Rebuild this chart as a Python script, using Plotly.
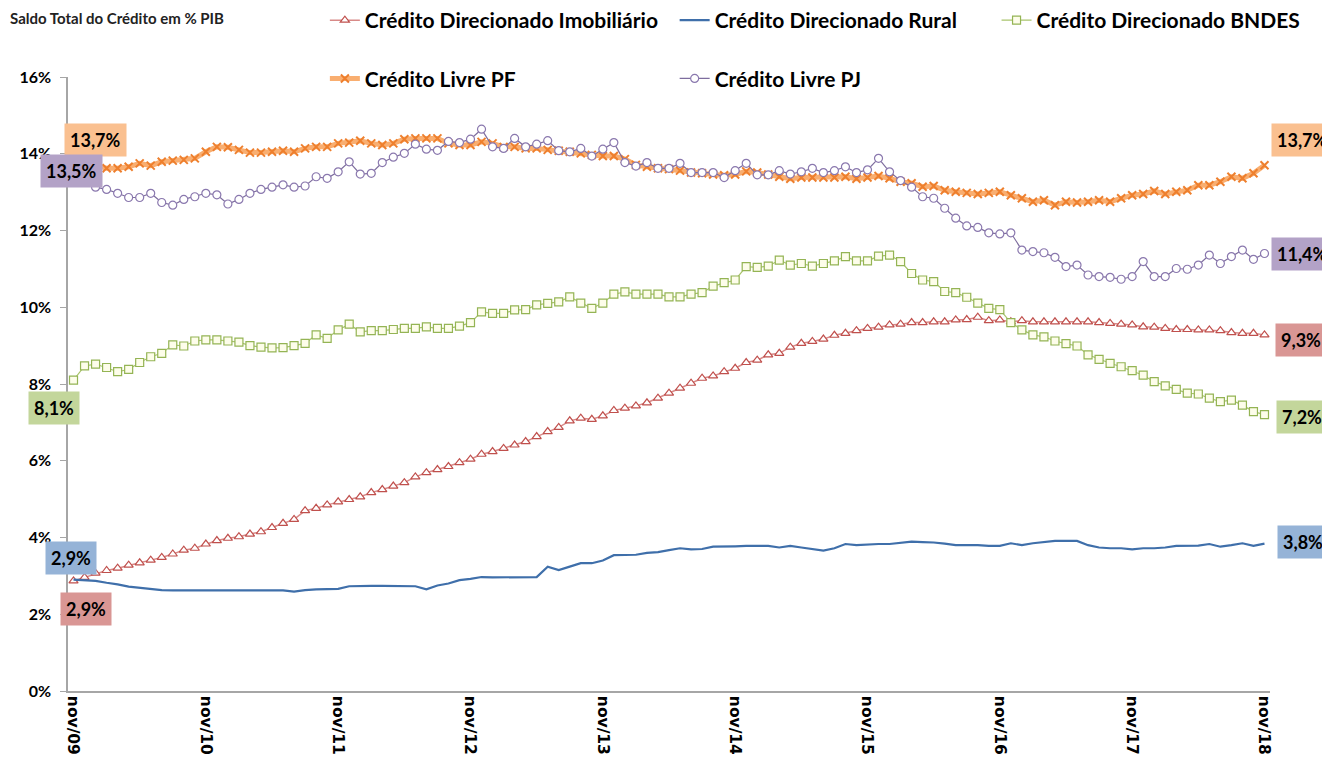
import plotly.graph_objects as go

# monthly categories nov/09 .. nov/18
meses = ['jan', 'fev', 'mar', 'abr', 'mai', 'jun', 'jul', 'ago', 'set', 'out', 'nov', 'dez']
categorias = []
for k in range(109):
    m = (10 + k) % 12
    ano = 9 + (10 + k) // 12
    categorias.append(f"{meses[m]}/{ano:02d}")
ticks_x = categorias[::12]
ticks_y = [0, 2, 4, 6, 8, 10, 12, 14, 16]

# saldo em % do PIB
imobiliario = [
    2.87, 2.96, 3.07, 3.14, 3.20, 3.28, 3.34, 3.41, 3.48, 3.57, 3.67, 3.72,
    3.83, 3.92, 3.98, 4.02, 4.09, 4.15, 4.26, 4.37, 4.47, 4.70, 4.76, 4.85,
    4.93, 4.99, 5.06, 5.17, 5.25, 5.34, 5.43, 5.58, 5.69, 5.77, 5.85, 5.95,
    6.04, 6.17, 6.24, 6.32, 6.41, 6.50, 6.63, 6.76, 6.87, 7.04, 7.11, 7.08,
    7.17, 7.31, 7.37, 7.43, 7.51, 7.63, 7.76, 7.89, 8.02, 8.15, 8.21, 8.32,
    8.41, 8.56, 8.62, 8.76, 8.80, 8.96, 9.06, 9.11, 9.17, 9.27, 9.32, 9.39,
    9.45, 9.48, 9.54, 9.56, 9.60, 9.60, 9.62, 9.62, 9.67, 9.68, 9.74, 9.65,
    9.67, 9.62, 9.65, 9.62, 9.62, 9.62, 9.62, 9.62, 9.62, 9.60, 9.58, 9.56,
    9.54, 9.49, 9.48, 9.45, 9.42, 9.42, 9.41, 9.41, 9.39, 9.34, 9.32, 9.32, 9.28,
]
rural = [
    2.90, 2.88, 2.87, 2.82, 2.78, 2.72, 2.69, 2.67, 2.63, 2.62, 2.62, 2.63,
    2.63, 2.63, 2.62, 2.62, 2.62, 2.63, 2.63, 2.62, 2.59, 2.63, 2.65, 2.65,
    2.66, 2.73, 2.74, 2.74, 2.74, 2.74, 2.74, 2.73, 2.65, 2.75, 2.80, 2.89, 2.92,
    2.97, 2.96, 2.96, 2.96, 2.96, 2.97, 3.24, 3.15, 3.24, 3.33, 3.33, 3.40,
    3.54, 3.54, 3.55, 3.60, 3.62, 3.67, 3.72, 3.69, 3.70, 3.76, 3.76, 3.77,
    3.78, 3.78, 3.78, 3.74, 3.78, 3.74, 3.70, 3.66, 3.72, 3.83, 3.80, 3.82,
    3.83, 3.83, 3.86, 3.89, 3.88, 3.87, 3.84, 3.80, 3.80, 3.80, 3.78, 3.78,
    3.85, 3.80, 3.85, 3.88, 3.91, 3.91, 3.91, 3.80, 3.74, 3.72, 3.72, 3.69,
    3.72, 3.72, 3.74, 3.78, 3.78, 3.79, 3.83, 3.76, 3.80, 3.85, 3.78, 3.84,
]
bndes = [
    8.10, 8.47, 8.52, 8.43, 8.32, 8.38, 8.56, 8.71, 8.80,
    9.02, 8.99, 9.12, 9.15, 9.15, 9.12, 9.09, 9.00, 8.96, 8.94, 8.95, 9.00, 9.06,
    9.28, 9.19, 9.41, 9.56, 9.36, 9.39, 9.39, 9.42, 9.45, 9.45, 9.49, 9.45, 9.45,
    9.51, 9.60, 9.88, 9.84, 9.84, 9.93, 9.94, 10.06, 10.10, 10.14, 10.27, 10.11,
    9.97, 10.11, 10.34, 10.40, 10.34, 10.34, 10.34, 10.27, 10.27, 10.34, 10.38, 10.55,
    10.64, 10.71, 11.06, 11.04, 11.07, 11.23, 11.10, 11.14, 11.07, 11.14, 11.21, 11.32,
    11.21, 11.21, 11.33, 11.36, 11.19, 10.88, 10.71, 10.67, 10.41, 10.38, 10.26, 10.11,
    9.97, 9.94, 9.60, 9.41, 9.28, 9.23, 9.12, 9.05, 8.99, 8.76, 8.64, 8.54,
    8.45, 8.35, 8.23, 8.06, 7.95, 7.86, 7.76, 7.74, 7.63, 7.54, 7.58, 7.45, 7.28, 7.20,
]
livre_pf = [
    13.71, 13.75, 13.71, 13.62, 13.62, 13.66, 13.75, 13.69, 13.79, 13.82, 13.84, 13.88,
    14.05, 14.18, 14.17, 14.10, 14.03, 14.03, 14.05, 14.08, 14.05, 14.14, 14.18, 14.18,
    14.27, 14.29, 14.34, 14.27, 14.23, 14.27, 14.38, 14.40, 14.40,
    14.40, 14.27, 14.23, 14.23, 14.31, 14.27, 14.18, 14.18, 14.14, 14.14, 14.10, 14.08,
    14.05, 14.01, 13.97, 13.94, 13.94, 13.86, 13.71, 13.66, 13.62, 13.60, 13.56, 13.51,
    13.49, 13.46, 13.44, 13.46, 13.54, 13.51, 13.46, 13.40, 13.35, 13.38, 13.38, 13.38,
    13.38, 13.40, 13.35, 13.38,
    13.42, 13.36, 13.27, 13.23, 13.14, 13.16, 13.05, 13.01, 12.98, 12.95, 12.98, 13.01,
    12.92, 12.84, 12.75, 12.79, 12.66, 12.75, 12.73, 12.75, 12.79, 12.75, 12.84, 12.92,
    12.95, 13.03, 12.95, 13.01, 13.05, 13.18, 13.18, 13.27, 13.40, 13.36, 13.49, 13.70,
]
livre_pj = [
    13.47, 13.33, 13.13, 13.07, 12.97, 12.86, 12.86, 12.97, 12.73, 12.66, 12.81, 12.88,
    12.97, 12.93, 12.69, 12.81, 12.97, 13.07, 13.13, 13.19, 13.13, 13.16, 13.40, 13.36,
    13.53, 13.79, 13.47, 13.49, 13.77, 13.91, 14.01, 14.25, 14.12, 14.09, 14.32,
    14.29, 14.38, 14.64, 14.18, 14.14, 14.40, 14.18, 14.25, 14.34, 14.08, 14.05, 14.14,
    13.94, 14.12, 14.29, 13.77, 13.68, 13.77, 13.62, 13.62, 13.75, 13.51, 13.51, 13.51,
    13.38, 13.56, 13.75, 13.45, 13.45, 13.56, 13.47, 13.53, 13.62, 13.51, 13.56, 13.66,
    13.51, 13.58,
    13.88, 13.53, 13.30, 13.13, 12.88, 12.84, 12.58, 12.32, 12.12, 12.08, 11.94, 11.91,
    11.94, 11.49, 11.45, 11.42, 11.30, 11.06, 11.10, 10.84, 10.80, 10.78, 10.73, 10.80,
    11.19, 10.80, 10.80, 11.01, 10.99, 11.10, 11.36, 11.14, 11.32, 11.49, 11.25, 11.40,
]

FONT = "Lato"
idx = list(range(len(categorias)))

fig = go.Figure()

# column 1 of the legend: Imobiliario / Livre PF
fig.add_trace(go.Scatter(
    x=idx, y=imobiliario, name="Crédito Direcionado Imobiliário",
    mode="lines+markers", legend="legend", legendgroup="a",
    line=dict(color="#D88A88", width=1.5),
    marker=dict(symbol="triangle-up", size=8, color="white",
                line=dict(color="#C0504D", width=1.2)),
))
fig.add_trace(go.Scatter(
    x=idx, y=livre_pf, name="Crédito Livre PF",
    mode="lines+markers", legend="legend", legendgroup="b",
    line=dict(color="#F9AE70", width=5),
    marker=dict(symbol="x-thin", size=8,
                line=dict(color="#EE7F2D", width=2)),
))
# column 2: Rural / Livre PJ
fig.add_trace(go.Scatter(
    x=idx, y=rural, name="Crédito Direcionado Rural",
    mode="lines", legend="legend2", legendgroup="c",
    line=dict(color="#3F6FAA", width=2.2),
))
fig.add_trace(go.Scatter(
    x=idx, y=livre_pj, name="Crédito Livre PJ",
    mode="lines+markers", legend="legend2", legendgroup="d",
    line=dict(color="#7E6D9E", width=1.2),
    marker=dict(symbol="circle", size=8, color="white",
                line=dict(color="#8A78AE", width=1.2)),
))
# column 3: BNDES
fig.add_trace(go.Scatter(
    x=idx, y=bndes, name="Crédito Direcionado BNDES",
    mode="lines+markers", legend="legend3", legendgroup="e",
    line=dict(color="#A9C46C", width=1.2),
    marker=dict(symbol="square", size=8, color="#FDFDEA",
                line=dict(color="#94B454", width=1.2)),
))


def rotulo(v):
    return f"{v:.1f}".replace(".", ",") + "%"


# first / last value boxes: (series, index, colour, xshift, yshift)
caixas = [
    (livre_pf, 0, "#FAC090", 22, 25),
    (livre_pj, 0, "#B3A2C7", -2, 3),
    (bndes, 0, "#C3D69B", -20, -28),
    (rural, 0, "#95B3D7", -3, 22),
    (imobiliario, 0, "#D99694", 12, -28),
    (livre_pf, 108, "#FAC090", 38, 25),
    (livre_pj, 108, "#B3A2C7", 38, 0),
    (imobiliario, 108, "#D99694", 37, -5),
    (bndes, 108, "#C3D69B", 38, -2),
    (rural, 108, "#95B3D7", 39, 2),
]
anots = []
for serie, i, cor, dx, dy in caixas:
    anots.append(dict(
        x=i, y=serie[i], xref="x", yref="y", text=f"<b>{rotulo(serie[i])}</b>",
        showarrow=False, xshift=dx, yshift=dy, bgcolor=cor, borderpad=5,
        font=dict(family=FONT, size=18, color="black"),
    ))
anots.append(dict(
    x=-0.05, y=1.096, xref="paper", yref="paper", yanchor="middle", xanchor="left",
    text="<b>Saldo Total do Crédito em % PIB</b>", showarrow=False,
    font=dict(family=FONT, size=15, color="#222"),
))

leg = dict(orientation="v", yanchor="top", xanchor="left", y=1.1254,
           bgcolor="rgba(0,0,0,0)", tracegroupgap=28,
           font=dict(family=FONT, size=21, color="black", weight="bold"))

# the page adds an 8px body margin, so the figure margins are 8px smaller
fig.update_layout(
    width=1330, height=770,
    margin=dict(l=60, r=68, t=69, b=87, autoexpand=False),
    paper_bgcolor="white", plot_bgcolor="white",
    annotations=anots,
    legend=dict(leg, x=0.2137),
    legend2=dict(leg, x=0.5047),
    legend3=dict(leg, x=0.7725),
    xaxis=dict(
        type="linear", range=[-0.5, 108.5], automargin=False,
        tickvals=idx[::12], ticktext=ticks_x, tickangle=90,
        showline=True, linecolor="#A6A6A6", linewidth=1.5,
        showgrid=False, zeroline=False, ticks="",
        tickfont=dict(family="DejaVu Sans", size=15.5, color="black", weight="bold"),
    ),
    yaxis=dict(
        range=[0, 16], automargin=False,
        tickvals=ticks_y, ticktext=[f"{t}%" for t in ticks_y],
        showline=True, linecolor="#A6A6A6", linewidth=1.5,
        ticks="outside", ticklen=6, tickcolor="#A6A6A6",
        showgrid=False, zeroline=False, ticklabelstandoff=6,
        tickfont=dict(family=FONT, size=16, color="black", weight="bold"),
    ),
)

fig.write_html("out.html")
